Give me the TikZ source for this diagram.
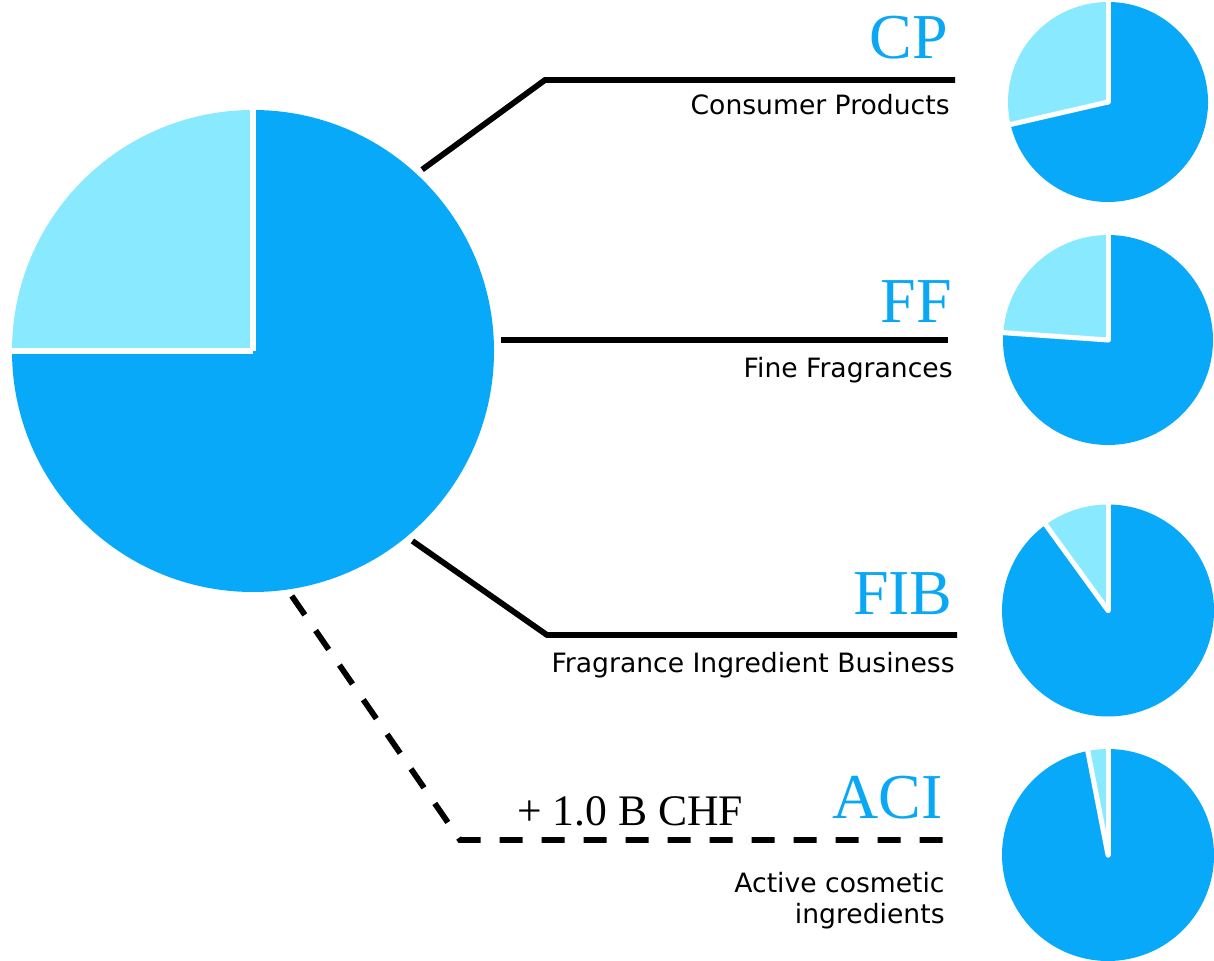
\documentclass[tikz,border=0pt]{standalone}
\usepackage{fontspec}
\setmainfont{Liberation Serif}
\setsansfont{DejaVu Sans}
\usepackage{tikz}
\definecolor{piedark}{HTML}{09A9F9}
\definecolor{pielight}{HTML}{89EAFF}
\definecolor{labelblue}{HTML}{0AA7F4}
\tikzset{
  segtag/.style={font=\fontsize{32}{32}\selectfont, text=labelblue, inner sep=0pt, anchor=base east},
  segname/.style={font=\sffamily\fontsize{13.3}{15.5}\selectfont, inner sep=0pt, anchor=base east, align=right},
  valuetag/.style={font=\fontsize{21.8}{21.8}\selectfont, inner sep=0pt, anchor=base west},
  link/.style={draw=black, line width=2.9pt},
  newlink/.style={link, dash pattern=on 11.5pt off 9.5pt},
  gap/.style={draw=white, line width=3pt},
  smallgap/.style={draw=white, line width=2.5pt, line cap=round}
}

\begin{document}
\begin{tikzpicture}[x=0.5pt, y=0.5pt]
  \useasboundingbox (0,0) rectangle (1214,-961);

  % group total
  \node[circle, minimum size=248pt, inner sep=0pt, outer sep=0pt] (bigpie) at (253,-351) {};
  \fill[piedark] (bigpie.center) -- ++(180:241) arc[start angle=180, end angle=450, radius=241] -- cycle;
  \fill[pielight] (bigpie.center) -- ++(90:241) arc[start angle=90, end angle=180, radius=241] -- cycle;
  \draw[gap] (bigpie.center) -- ++(90:243);
  \draw[gap] (bigpie.center) -- ++(180:243);

  % segment pies
  \foreach \name/\cy/\r/\cut in {cp/102/100/193, ff/340/105/176, fib/610.5/106/126, aci/855/106/101} {
    \coordinate (\name-pie) at (1108,-\cy);
    \fill[piedark] (\name-pie) -- ++(\cut:\r) arc[start angle=\cut, end angle=450, radius=\r] -- cycle;
    \fill[pielight] (\name-pie) -- ++(90:\r) arc[start angle=90, end angle=\cut, radius=\r] -- cycle;
    \draw[smallgap] (\name-pie) -- ++(90:\r);
    \draw[smallgap] (\name-pie) -- ++(\cut:\r);
  }

  % labels
  \node[segtag] (cp-tag) at (948,-59) {CP};
  \node[segname] (cp-name) at (950,-115) {Consumer Products};
  \node[segtag] (ff-tag) at (952,-323) {FF};
  \node[segname] (ff-name) at (953,-378) {Fine Fragrances};
  \node[segtag] (fib-tag) at (953,-615) {FIB};
  \node[segname] (fib-name) at (955,-672) {Fragrance Ingredient Business};
  \node[segtag] (aci-tag) at (943,-818) {ACI};
  \node[segname] (aci-name) at (945,-923) {Active cosmetic\\ingredients};
  \node[valuetag] (aci-value) at (517,-825) {+ 1.0 B CHF};

  % connectors
  \coordinate (cp-bend) at (545,-80);
  \coordinate (cp-end) at (955,-80);
  \coordinate (ff-end) at (948,-340);
  \coordinate (fib-bend) at (547,-635);
  \coordinate (fib-end) at (957,-635);
  \coordinate (aci-bend) at (460,-840);
  \coordinate (aci-end) at (947,-840);

  \draw[link] (bigpie.47.6) -- (cp-bend) -- (cp-end);
  \draw[link] (bigpie.2.5 |- ff-end) -- (ff-end);
  \draw[link] (bigpie.310.1) -- (fib-bend) -- (fib-end);
  \draw[newlink] (bigpie.279) -- (aci-bend) -- (aci-end);
\end{tikzpicture}
\end{document}
